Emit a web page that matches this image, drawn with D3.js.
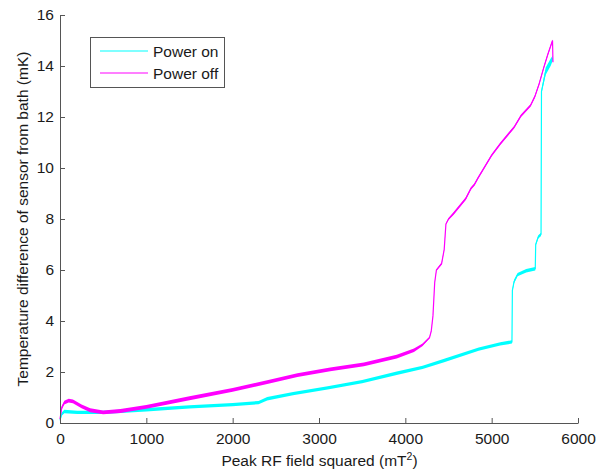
<!DOCTYPE html>
<html>
<head>
<meta charset="utf-8">
<script src="https://cdn.jsdelivr.net/npm/d3@7"></script>
<style>
  html, body { margin: 0; padding: 0; background: #fff; }
  svg { display: block; font-family: "Liberation Sans", Arial, sans-serif; }
</style>
</head>
<body>
<svg id="chart" width="604" height="474"></svg>
<script>
// ---- Data ----
const seriesNames = ["Power on", "Power off"];

// Power on (cyan)
const onX = [0, 20, 50, 200, 500, 1000, 1500, 2000, 2300, 2400, 2700, 3100, 3500, 3900, 4200, 4450, 4850, 5100, 5235, 5240, 5260, 5300, 5400, 5505, 5510, 5540, 5572, 5577, 5626, 5684, 5705];
const onT = [0.1, 0.35, 0.45, 0.42, 0.42, 0.52, 0.63, 0.72, 0.8, 0.95, 1.15, 1.38, 1.62, 1.95, 2.18, 2.45, 2.9, 3.1, 3.18, 5.2, 5.55, 5.82, 5.97, 6.05, 7.0, 7.3, 7.4, 13.0, 13.8, 14.15, 14.3];
const onNoise = [0.04, 0.065, 0.065, 0.065, 0.065, 0.065, 0.065, 0.065, 0.065, 0.065, 0.065, 0.065, 0.065, 0.065, 0.065, 0.065, 0.065, 0.065, 0.065, 0.05, 0.065, 0.065, 0.065, 0.065, 0.05, 0.065, 0.065, 0.08, 0.14, 0.14, 0.1];

// Power off (magenta)
const offX = [0, 20, 50, 100, 150, 250, 350, 500, 700, 1000, 1500, 2000, 2400, 2750, 3130, 3520, 3900, 4100, 4200, 4280, 4300, 4320, 4340, 4360, 4420, 4450, 4470, 4500, 4560, 4700, 4760, 4800, 4840, 5000, 5100, 5260, 5340, 5450, 5500, 5550, 5600, 5650, 5705, 5710];
const offT = [0.15, 0.6, 0.8, 0.88, 0.85, 0.65, 0.5, 0.42, 0.47, 0.63, 0.97, 1.3, 1.6, 1.88, 2.1, 2.3, 2.6, 2.85, 3.07, 3.35, 3.6, 4.2, 5.5, 6.0, 6.25, 6.8, 7.8, 8.0, 8.22, 8.8, 9.2, 9.35, 9.6, 10.5, 10.95, 11.6, 12.05, 12.45, 12.8, 13.3, 13.9, 14.45, 15.0, 14.15];
const offNoise = [0.04, 0.07, 0.075, 0.075, 0.075, 0.075, 0.075, 0.075, 0.075, 0.075, 0.075, 0.075, 0.075, 0.075, 0.075, 0.075, 0.075, 0.07, 0.05, 0.03, 0.02, 0.02, 0.02, 0.03, 0.04, 0.03, 0.03, 0.04, 0.05, 0.05, 0.05, 0.05, 0.05, 0.05, 0.05, 0.05, 0.05, 0.05, 0.05, 0.05, 0.05, 0.05, 0.04, 0.02];

const xTicks = [0, 1000, 2000, 3000, 4000, 5000, 6000];
const yTicks = [0, 2, 4, 6, 8, 10, 12, 14, 16];

const xLabel = "Peak RF field squared (mT";
const xLabelSup = "2";
const yLabelText = "Temperature difference of sensor from bath (mK)";

// ---- Layout ----
const svg = d3.select("#chart");
const plotL = 60, plotR = 578, plotT = 15, plotB = 423;
const x = d3.scaleLinear().domain([0, 6000]).range([plotL, plotR]);
const y = d3.scaleLinear().domain([0, 16]).range([plotB, plotT]);
const colors = { on: "#00ffff", off: "#ff00ff" };
const textColor = "#1a1a1a";
const axisColor = "#555";
const fontSize = "15.5px";

function toRows(xs, ts, ns) { return xs.map((v, i) => ({ x: v, t: ts[i], n: ns[i] })); }
const onRows = toRows(onX, onT, onNoise);
const offRows = toRows(offX, offT, offNoise);

const area = d3.area().x(d => x(d.x)).y0(d => y(d.t - d.n)).y1(d => y(d.t + d.n));
const line = d3.line().x(d => x(d.x)).y(d => y(d.t));

function drawSeries(rows, color) {
  const g = svg.append("g");
  g.append("path").datum(rows).attr("d", area).attr("fill", color).attr("stroke", "none");
  g.append("path").datum(rows).attr("d", line).attr("fill", "none").attr("stroke", color).attr("stroke-width", 1.2);
}
drawSeries(onRows, colors.on);
drawSeries(offRows, colors.off);

// ---- Axes ----
const fmt = d3.format("d");
const xAxis = d3.axisBottom(x).tickValues(xTicks).tickFormat(fmt).tickSizeInner(-5).tickSizeOuter(0).tickPadding(10);
const yAxis = d3.axisLeft(y).tickValues(yTicks).tickFormat(fmt).tickSizeInner(-5).tickSizeOuter(0).tickPadding(6);

const gx = svg.append("g").attr("transform", `translate(0,${plotB})`).call(xAxis);
const gy = svg.append("g").attr("transform", `translate(${plotL},0)`).call(yAxis);
[gx, gy].forEach(g => {
  g.select(".domain").attr("stroke", axisColor).attr("stroke-width", 1);
  g.selectAll(".tick line").attr("stroke", axisColor).attr("stroke-width", 1);
  g.selectAll(".tick text").attr("fill", textColor).style("font-size", fontSize)
    .style("font-family", "'Liberation Sans', Arial, sans-serif");
});

// ---- Axis labels ----
const xl = svg.append("text")
  .attr("x", 319.5).attr("y", 466)
  .attr("text-anchor", "middle").attr("fill", textColor).style("font-size", fontSize);
xl.append("tspan").text(xLabel);
xl.append("tspan").text(xLabelSup).attr("dy", -6).style("font-size", "10.5px");
xl.append("tspan").text(")").attr("dy", 6);

svg.append("text")
  .attr("transform", `translate(28,${(plotT + plotB) / 2}) rotate(-90)`)
  .attr("text-anchor", "middle").attr("fill", textColor).style("font-size", fontSize)
  .text(yLabelText);

// ---- Legend ----
const lg = svg.append("g");
lg.append("rect").attr("x", 90.5).attr("y", 37.5).attr("width", 134).attr("height", 50)
  .attr("fill", "#fff").attr("stroke", axisColor).attr("stroke-width", 1);
const legendColors = [colors.on, colors.off];
seriesNames.forEach((name, i) => {
  const cy = 51 + i * 22;
  lg.append("line").attr("x1", 100).attr("x2", 148).attr("y1", cy).attr("y2", cy)
    .attr("stroke", legendColors[i]).attr("stroke-width", 1.2);
  lg.append("text").attr("x", 153).attr("y", cy + 5.5).attr("fill", textColor)
    .style("font-size", fontSize).text(name);
});
</script>
</body>
</html>
